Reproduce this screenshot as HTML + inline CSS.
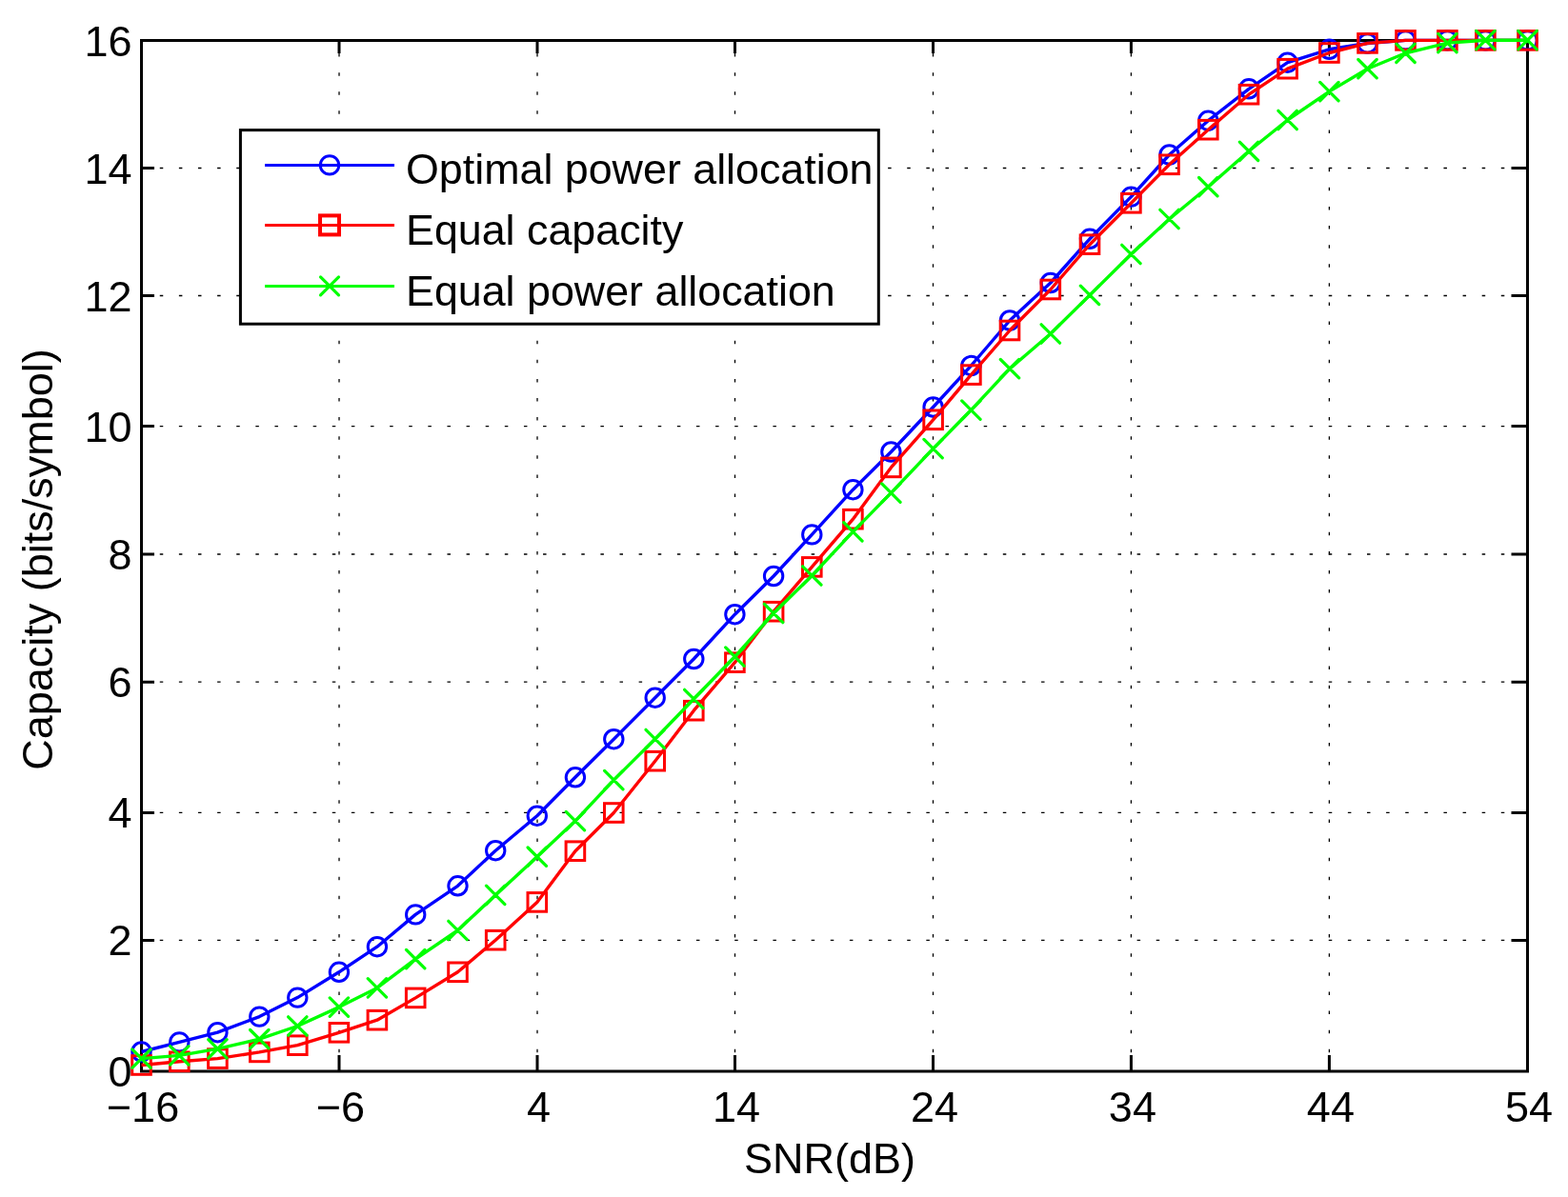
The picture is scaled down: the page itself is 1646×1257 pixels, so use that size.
<!DOCTYPE html>
<html><head><meta charset="utf-8"><title>Capacity vs SNR</title>
<style>
html,body{margin:0;padding:0;background:#fff;}
svg{display:block;}
text{font-family:"Liberation Sans", Arial, Helvetica, sans-serif;font-size:45px;fill:#000;}
</style></head><body>
<svg width="1646" height="1257" viewBox="0 0 1646 1257">
<rect x="0" y="0" width="1646" height="1257" fill="#fff"/>
<path d="M356.0 1125.0V42.5M564.0 1125.0V42.5M771.5 1125.0V42.5M979.5 1125.0V42.5M1187.4 1125.0V42.5M1395.4 1125.0V42.5" stroke="#000" stroke-width="1.3" stroke-dasharray="3.5 16.61" stroke-dashoffset="-19.75" fill="none"/>
<path d="M148.5 987.4H1603.5M148.5 853.4H1603.5M148.5 716.2H1603.5M148.5 582.0H1603.5M148.5 447.6H1603.5M148.5 310.5H1603.5M148.5 176.5H1603.5" stroke="#000" stroke-width="1.3" stroke-dasharray="3.5 16.615" stroke-dashoffset="-19.25" fill="none"/>
<path d="M356.0 1125.0v-17.0M356.0 42.5v13.5M564.0 1125.0v-17.0M564.0 42.5v13.5M771.5 1125.0v-17.0M771.5 42.5v13.5M979.5 1125.0v-17.0M979.5 42.5v13.5M1187.4 1125.0v-17.0M1187.4 42.5v13.5M1395.4 1125.0v-17.0M1395.4 42.5v13.5M148.5 987.4h13.5M1603.5 987.4h-17.0M148.5 853.4h13.5M1603.5 853.4h-17.0M148.5 716.2h13.5M1603.5 716.2h-17.0M148.5 582.0h13.5M1603.5 582.0h-17.0M148.5 447.6h13.5M1603.5 447.6h-17.0M148.5 310.5h13.5M1603.5 310.5h-17.0M148.5 176.5h13.5M1603.5 176.5h-17.0" stroke="#000" stroke-width="3" fill="none"/>
<rect x="148.5" y="42.5" width="1455.0" height="1082.5" fill="none" stroke="#000" stroke-width="3"/>
<text x="138.5" y="1141.0" text-anchor="end">0</text>
<text x="138.5" y="1003.4" text-anchor="end">2</text>
<text x="138.5" y="869.4" text-anchor="end">4</text>
<text x="138.5" y="732.2" text-anchor="end">6</text>
<text x="138.5" y="598.0" text-anchor="end">8</text>
<text x="138.5" y="463.6" text-anchor="end">10</text>
<text x="138.5" y="326.5" text-anchor="end">12</text>
<text x="138.5" y="192.5" text-anchor="end">14</text>
<text x="138.5" y="58.5" text-anchor="end">16</text>
<text x="150.0" y="1177.5" text-anchor="middle">−16</text>
<text x="357.5" y="1177.5" text-anchor="middle">−6</text>
<text x="565.5" y="1177.5" text-anchor="middle">4</text>
<text x="773.0" y="1177.5" text-anchor="middle">14</text>
<text x="981.0" y="1177.5" text-anchor="middle">24</text>
<text x="1188.9" y="1177.5" text-anchor="middle">34</text>
<text x="1396.9" y="1177.5" text-anchor="middle">44</text>
<text x="1605.0" y="1177.5" text-anchor="middle">54</text>
<text x="871" y="1232" text-anchor="middle">SNR(dB)</text>
<text transform="translate(55 587.5) rotate(-90)" text-anchor="middle">Capacity (bits/symbol)</text>
<g>
<polyline points="148.5,1104.5 188.3,1094.4 228.4,1084.2 272.3,1067.6 312.3,1047.6 355.9,1020.8 395.9,994.2 436.2,960.4 480.5,930.3 520.2,893.2 563.8,856.7 603.9,816.3 644.3,776.2 687.7,732.7 728.3,692.0 771.4,645.2 812.1,605.0 852.3,561.4 895.4,514.2 935.4,474.5 979.6,427.5 1019.4,384.0 1060.0,336.5 1102.8,297.0 1144.0,250.8 1187.4,206.6 1227.5,162.5 1268.3,126.7 1311.0,93.3 1351.6,65.7 1395.4,51.8 1435.5,45.5 1475.5,42.4 1519.4,42.4 1559.4,42.4 1603.5,42.4" fill="none" stroke="#0000ff" stroke-width="3.4" stroke-linejoin="round"/>
<circle cx="148.5" cy="1104.5" r="9.7" fill="none" stroke="#0000ff" stroke-width="3.0"/>
<circle cx="188.3" cy="1094.4" r="9.7" fill="none" stroke="#0000ff" stroke-width="3.0"/>
<circle cx="228.4" cy="1084.2" r="9.7" fill="none" stroke="#0000ff" stroke-width="3.0"/>
<circle cx="272.3" cy="1067.6" r="9.7" fill="none" stroke="#0000ff" stroke-width="3.0"/>
<circle cx="312.3" cy="1047.6" r="9.7" fill="none" stroke="#0000ff" stroke-width="3.0"/>
<circle cx="355.9" cy="1020.8" r="9.7" fill="none" stroke="#0000ff" stroke-width="3.0"/>
<circle cx="395.9" cy="994.2" r="9.7" fill="none" stroke="#0000ff" stroke-width="3.0"/>
<circle cx="436.2" cy="960.4" r="9.7" fill="none" stroke="#0000ff" stroke-width="3.0"/>
<circle cx="480.5" cy="930.3" r="9.7" fill="none" stroke="#0000ff" stroke-width="3.0"/>
<circle cx="520.2" cy="893.2" r="9.7" fill="none" stroke="#0000ff" stroke-width="3.0"/>
<circle cx="563.8" cy="856.7" r="9.7" fill="none" stroke="#0000ff" stroke-width="3.0"/>
<circle cx="603.9" cy="816.3" r="9.7" fill="none" stroke="#0000ff" stroke-width="3.0"/>
<circle cx="644.3" cy="776.2" r="9.7" fill="none" stroke="#0000ff" stroke-width="3.0"/>
<circle cx="687.7" cy="732.7" r="9.7" fill="none" stroke="#0000ff" stroke-width="3.0"/>
<circle cx="728.3" cy="692.0" r="9.7" fill="none" stroke="#0000ff" stroke-width="3.0"/>
<circle cx="771.4" cy="645.2" r="9.7" fill="none" stroke="#0000ff" stroke-width="3.0"/>
<circle cx="812.1" cy="605.0" r="9.7" fill="none" stroke="#0000ff" stroke-width="3.0"/>
<circle cx="852.3" cy="561.4" r="9.7" fill="none" stroke="#0000ff" stroke-width="3.0"/>
<circle cx="895.4" cy="514.2" r="9.7" fill="none" stroke="#0000ff" stroke-width="3.0"/>
<circle cx="935.4" cy="474.5" r="9.7" fill="none" stroke="#0000ff" stroke-width="3.0"/>
<circle cx="979.6" cy="427.5" r="9.7" fill="none" stroke="#0000ff" stroke-width="3.0"/>
<circle cx="1019.4" cy="384.0" r="9.7" fill="none" stroke="#0000ff" stroke-width="3.0"/>
<circle cx="1060.0" cy="336.5" r="9.7" fill="none" stroke="#0000ff" stroke-width="3.0"/>
<circle cx="1102.8" cy="297.0" r="9.7" fill="none" stroke="#0000ff" stroke-width="3.0"/>
<circle cx="1144.0" cy="250.8" r="9.7" fill="none" stroke="#0000ff" stroke-width="3.0"/>
<circle cx="1187.4" cy="206.6" r="9.7" fill="none" stroke="#0000ff" stroke-width="3.0"/>
<circle cx="1227.5" cy="162.5" r="9.7" fill="none" stroke="#0000ff" stroke-width="3.0"/>
<circle cx="1268.3" cy="126.7" r="9.7" fill="none" stroke="#0000ff" stroke-width="3.0"/>
<circle cx="1311.0" cy="93.3" r="9.7" fill="none" stroke="#0000ff" stroke-width="3.0"/>
<circle cx="1351.6" cy="65.7" r="9.7" fill="none" stroke="#0000ff" stroke-width="3.0"/>
<circle cx="1395.4" cy="51.8" r="9.7" fill="none" stroke="#0000ff" stroke-width="3.0"/>
<circle cx="1435.5" cy="45.5" r="9.7" fill="none" stroke="#0000ff" stroke-width="3.0"/>
<circle cx="1475.5" cy="42.4" r="9.7" fill="none" stroke="#0000ff" stroke-width="3.0"/>
<circle cx="1519.4" cy="42.4" r="9.7" fill="none" stroke="#0000ff" stroke-width="3.0"/>
<circle cx="1559.4" cy="42.4" r="9.7" fill="none" stroke="#0000ff" stroke-width="3.0"/>
<circle cx="1603.5" cy="42.4" r="9.7" fill="none" stroke="#0000ff" stroke-width="3.0"/>
<polyline points="148.5,1118.5 188.3,1114.8 228.4,1111.6 272.3,1104.9 312.3,1097.7 355.9,1084.3 395.9,1071.2 436.2,1047.9 480.5,1020.8 520.2,987.2 563.8,947.4 603.9,893.7 644.3,853.5 687.7,799.2 728.3,746.2 771.4,695.7 812.1,642.2 852.3,595.4 895.4,545.2 935.4,490.9 979.6,440.8 1019.4,393.6 1060.0,347.0 1102.8,304.0 1144.0,256.7 1187.4,213.3 1227.5,172.8 1268.3,136.2 1311.0,99.2 1351.6,72.2 1395.4,55.5 1435.5,45.4 1475.5,42.4 1519.4,42.4 1559.4,42.4 1603.5,42.4" fill="none" stroke="#ff0000" stroke-width="3.4" stroke-linejoin="round"/>
<rect x="138.7" y="1108.7" width="19.6" height="19.6" fill="none" stroke="#ff0000" stroke-width="3.0"/>
<rect x="178.5" y="1105.0" width="19.6" height="19.6" fill="none" stroke="#ff0000" stroke-width="3.0"/>
<rect x="218.6" y="1101.8" width="19.6" height="19.6" fill="none" stroke="#ff0000" stroke-width="3.0"/>
<rect x="262.5" y="1095.1" width="19.6" height="19.6" fill="none" stroke="#ff0000" stroke-width="3.0"/>
<rect x="302.5" y="1087.9" width="19.6" height="19.6" fill="none" stroke="#ff0000" stroke-width="3.0"/>
<rect x="346.1" y="1074.5" width="19.6" height="19.6" fill="none" stroke="#ff0000" stroke-width="3.0"/>
<rect x="386.1" y="1061.4" width="19.6" height="19.6" fill="none" stroke="#ff0000" stroke-width="3.0"/>
<rect x="426.4" y="1038.1" width="19.6" height="19.6" fill="none" stroke="#ff0000" stroke-width="3.0"/>
<rect x="470.7" y="1011.0" width="19.6" height="19.6" fill="none" stroke="#ff0000" stroke-width="3.0"/>
<rect x="510.4" y="977.4" width="19.6" height="19.6" fill="none" stroke="#ff0000" stroke-width="3.0"/>
<rect x="554.0" y="937.6" width="19.6" height="19.6" fill="none" stroke="#ff0000" stroke-width="3.0"/>
<rect x="594.1" y="883.9" width="19.6" height="19.6" fill="none" stroke="#ff0000" stroke-width="3.0"/>
<rect x="634.5" y="843.7" width="19.6" height="19.6" fill="none" stroke="#ff0000" stroke-width="3.0"/>
<rect x="677.9" y="789.4" width="19.6" height="19.6" fill="none" stroke="#ff0000" stroke-width="3.0"/>
<rect x="718.5" y="736.4" width="19.6" height="19.6" fill="none" stroke="#ff0000" stroke-width="3.0"/>
<rect x="761.6" y="685.9" width="19.6" height="19.6" fill="none" stroke="#ff0000" stroke-width="3.0"/>
<rect x="802.3" y="632.4" width="19.6" height="19.6" fill="none" stroke="#ff0000" stroke-width="3.0"/>
<rect x="842.5" y="585.6" width="19.6" height="19.6" fill="none" stroke="#ff0000" stroke-width="3.0"/>
<rect x="885.6" y="535.4" width="19.6" height="19.6" fill="none" stroke="#ff0000" stroke-width="3.0"/>
<rect x="925.6" y="481.1" width="19.6" height="19.6" fill="none" stroke="#ff0000" stroke-width="3.0"/>
<rect x="969.8" y="431.0" width="19.6" height="19.6" fill="none" stroke="#ff0000" stroke-width="3.0"/>
<rect x="1009.6" y="383.8" width="19.6" height="19.6" fill="none" stroke="#ff0000" stroke-width="3.0"/>
<rect x="1050.2" y="337.2" width="19.6" height="19.6" fill="none" stroke="#ff0000" stroke-width="3.0"/>
<rect x="1093.0" y="294.2" width="19.6" height="19.6" fill="none" stroke="#ff0000" stroke-width="3.0"/>
<rect x="1134.2" y="246.9" width="19.6" height="19.6" fill="none" stroke="#ff0000" stroke-width="3.0"/>
<rect x="1177.6" y="203.5" width="19.6" height="19.6" fill="none" stroke="#ff0000" stroke-width="3.0"/>
<rect x="1217.7" y="163.0" width="19.6" height="19.6" fill="none" stroke="#ff0000" stroke-width="3.0"/>
<rect x="1258.5" y="126.4" width="19.6" height="19.6" fill="none" stroke="#ff0000" stroke-width="3.0"/>
<rect x="1301.2" y="89.4" width="19.6" height="19.6" fill="none" stroke="#ff0000" stroke-width="3.0"/>
<rect x="1341.8" y="62.4" width="19.6" height="19.6" fill="none" stroke="#ff0000" stroke-width="3.0"/>
<rect x="1385.6" y="45.7" width="19.6" height="19.6" fill="none" stroke="#ff0000" stroke-width="3.0"/>
<rect x="1425.7" y="35.6" width="19.6" height="19.6" fill="none" stroke="#ff0000" stroke-width="3.0"/>
<rect x="1465.7" y="32.6" width="19.6" height="19.6" fill="none" stroke="#ff0000" stroke-width="3.0"/>
<rect x="1509.6" y="32.6" width="19.6" height="19.6" fill="none" stroke="#ff0000" stroke-width="3.0"/>
<rect x="1549.6" y="32.6" width="19.6" height="19.6" fill="none" stroke="#ff0000" stroke-width="3.0"/>
<rect x="1593.7" y="32.6" width="19.6" height="19.6" fill="none" stroke="#ff0000" stroke-width="3.0"/>
<polyline points="148.5,1111.6 188.3,1108.4 228.4,1101.4 272.3,1091.2 312.3,1077.5 355.9,1057.6 395.9,1037.4 436.2,1007.1 480.5,977.0 520.2,939.9 563.8,899.7 603.9,862.1 644.3,819.1 687.7,776.0 728.3,734.0 771.4,689.6 812.1,644.0 852.3,604.5 895.4,558.4 935.4,517.6 979.6,471.1 1019.4,430.6 1060.0,387.2 1102.8,350.5 1144.0,309.9 1187.4,267.0 1227.5,230.0 1268.3,196.2 1311.0,158.8 1351.6,126.0 1395.4,96.1 1435.5,72.2 1475.5,55.8 1519.4,45.1 1559.4,42.2 1603.5,42.2" fill="none" stroke="#00ff00" stroke-width="3.4" stroke-linejoin="round"/>
<path d="M138.8 1101.9l19.4 19.4M138.8 1121.3l19.4 -19.4M178.6 1098.7l19.4 19.4M178.6 1118.1l19.4 -19.4M218.7 1091.7l19.4 19.4M218.7 1111.1l19.4 -19.4M262.6 1081.5l19.4 19.4M262.6 1100.9l19.4 -19.4M302.6 1067.8l19.4 19.4M302.6 1087.2l19.4 -19.4M346.2 1047.9l19.4 19.4M346.2 1067.3l19.4 -19.4M386.2 1027.7l19.4 19.4M386.2 1047.1l19.4 -19.4M426.5 997.4l19.4 19.4M426.5 1016.8l19.4 -19.4M470.8 967.3l19.4 19.4M470.8 986.7l19.4 -19.4M510.5 930.2l19.4 19.4M510.5 949.6l19.4 -19.4M554.1 890.0l19.4 19.4M554.1 909.4l19.4 -19.4M594.2 852.4l19.4 19.4M594.2 871.8l19.4 -19.4M634.6 809.4l19.4 19.4M634.6 828.8l19.4 -19.4M678.0 766.3l19.4 19.4M678.0 785.7l19.4 -19.4M718.6 724.3l19.4 19.4M718.6 743.7l19.4 -19.4M761.7 679.9l19.4 19.4M761.7 699.3l19.4 -19.4M802.4 634.3l19.4 19.4M802.4 653.7l19.4 -19.4M842.6 594.8l19.4 19.4M842.6 614.2l19.4 -19.4M885.7 548.7l19.4 19.4M885.7 568.1l19.4 -19.4M925.7 507.9l19.4 19.4M925.7 527.3l19.4 -19.4M969.9 461.4l19.4 19.4M969.9 480.8l19.4 -19.4M1009.7 420.9l19.4 19.4M1009.7 440.3l19.4 -19.4M1050.3 377.5l19.4 19.4M1050.3 396.9l19.4 -19.4M1093.1 340.8l19.4 19.4M1093.1 360.2l19.4 -19.4M1134.3 300.2l19.4 19.4M1134.3 319.6l19.4 -19.4M1177.7 257.3l19.4 19.4M1177.7 276.7l19.4 -19.4M1217.8 220.3l19.4 19.4M1217.8 239.7l19.4 -19.4M1258.6 186.5l19.4 19.4M1258.6 205.9l19.4 -19.4M1301.3 149.1l19.4 19.4M1301.3 168.5l19.4 -19.4M1341.9 116.3l19.4 19.4M1341.9 135.7l19.4 -19.4M1385.7 86.4l19.4 19.4M1385.7 105.8l19.4 -19.4M1425.8 62.5l19.4 19.4M1425.8 81.9l19.4 -19.4M1465.8 46.1l19.4 19.4M1465.8 65.5l19.4 -19.4M1509.7 35.4l19.4 19.4M1509.7 54.8l19.4 -19.4M1549.7 32.5l19.4 19.4M1549.7 51.9l19.4 -19.4M1593.8 32.5l19.4 19.4M1593.8 51.9l19.4 -19.4" fill="none" stroke="#00ff00" stroke-width="3.2" stroke-linecap="round"/>
</g>
<rect x="252.4" y="136.6" width="669.9" height="203.6" fill="#fff" stroke="#000" stroke-width="3"/>
<path d="M278 173.4H414" stroke="#0000ff" stroke-width="3" fill="none"/>
<circle cx="346.0" cy="173.4" r="9.7" fill="none" stroke="#0000ff" stroke-width="3.0"/>
<text x="426" y="193.0" style="font-size:44.8px">Optimal power allocation</text>
<path d="M278 236.4H414" stroke="#ff0000" stroke-width="3" fill="none"/>
<rect x="336.0" y="226.4" width="20.0" height="20.0" fill="none" stroke="#ff0000" stroke-width="4.0"/>
<text x="426" y="257.0" style="font-size:44.8px">Equal capacity</text>
<path d="M278 300.4H414" stroke="#00ff00" stroke-width="3" fill="none"/>
<path d="M336.5 290.9l19.0 19.0M336.5 309.9l19.0 -19.0" fill="none" stroke="#00ff00" stroke-width="3.2" stroke-linecap="round"/>
<text x="426" y="321.0" style="font-size:44.8px">Equal power allocation</text>
</svg>
</body></html>
